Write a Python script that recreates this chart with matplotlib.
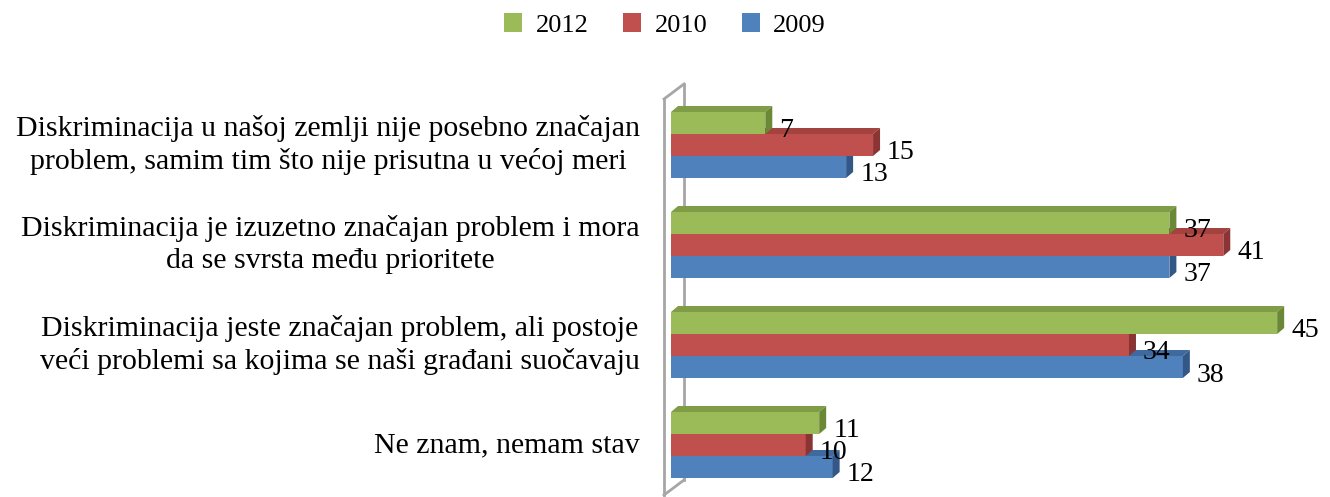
import matplotlib
matplotlib.use("Agg")
import matplotlib.pyplot as plt
from matplotlib.patches import Polygon, Patch

plt.rcParams['font.family'] = ['Liberation Serif', 'DejaVu Serif']

categories = [
    "Diskriminacija u našoj zemlji nije posebno značajan\nproblem, samim tim što nije prisutna u većoj meri",
    "Diskriminacija je izuzetno značajan problem i mora\nda se svrsta među prioritete",
    "Diskriminacija jeste značajan problem, ali postoje\nveći problemi sa kojima se naši građani suočavaju",
    "Ne znam, nemam stav",
]
years = ["2012", "2010", "2009"]
v2012 = [7, 37, 45, 11]
v2010 = [15, 41, 34, 10]
v2009 = [13, 37, 38, 12]
series = [v2012, v2010, v2009]

front = ["#9BBB59", "#C0504D", "#4F81BD"]
top_c = ["#7F9C47", "#A3423F", "#3F6A9E"]
side_c = ["#6B8836", "#8A3533", "#335888"]

W, H = 1330, 497
fig = plt.figure(figsize=(W / 100, H / 100), dpi=100)
x0 = 671
scale = 13.47
ax = fig.add_axes([x0 / W, 0, 1 - x0 / W, 1])
ax.set_xlim(0, (W - x0) / scale)
ax.set_ylim(3.52, -1.45)
ax.axis('off')

pxx = 1 / scale   # one pixel in x data units
pxy = 0.01        # one pixel in y data units
dx, dy = 7 * pxx, 6 * pxy
bh = 0.22

# back wall
wf, wb = -7 * pxx, 13 * pxx
wt_f, wt_b = -0.46, -0.61
wb_b, wb_f = 3.35, 3.50
wall_kw = dict(color="#A6A6A6", lw=2, clip_on=False, zorder=1)
ax.plot([wf, wf], [wt_f, wb_f], **wall_kw)
ax.plot([wf, wb], [wt_f, wt_b], **wall_kw)
ax.plot([wb, wb], [wt_b, wb_b], **wall_kw)
ax.plot([wb, wf], [wb_b, wb_f], **wall_kw)

offsets = [-bh, 0, bh]
z = 2
for si in [2, 1, 0]:
    vals = series[si]
    for gi, v in enumerate(vals):
        yc = gi + offsets[si]
        top = yc - bh / 2
        bot = yc + bh / 2
        ax.barh(yc, v, height=bh, color=front[si], edgecolor='none', zorder=z)
        ax.add_patch(Polygon([(0, top), (v, top), (v + dx, top - dy), (dx, top - dy)],
                             closed=True, facecolor=top_c[si], edgecolor='none', zorder=z))
        ax.add_patch(Polygon([(v, top), (v + dx, top - dy), (v + dx, bot - dy), (v, bot)],
                             closed=True, facecolor=side_c[si], edgecolor='none', zorder=z))
        ax.text(v + 14 * pxx, yc + 8 * pxy, str(v), ha='left', va='center',
                fontsize=20, color='black', zorder=10)
    z += 1

for gi, c in enumerate(categories):
    ax.text(-31 * pxx, gi, c, ha='right', va='center', multialignment='center',
            fontsize=21.5, color='black', linespacing=1.3, clip_on=False)

handles = [Patch(facecolor=front[i], edgecolor='none') for i in range(3)]
fig.legend(handles, years, loc='upper center', bbox_to_anchor=(0.5, 1.005), ncol=3,
           frameon=False, fontsize=19, handlelength=0.7, handleheight=0.7,
           columnspacing=1.3, handletextpad=0.5, borderaxespad=0.2)

fig.savefig("out.png", dpi=100)
